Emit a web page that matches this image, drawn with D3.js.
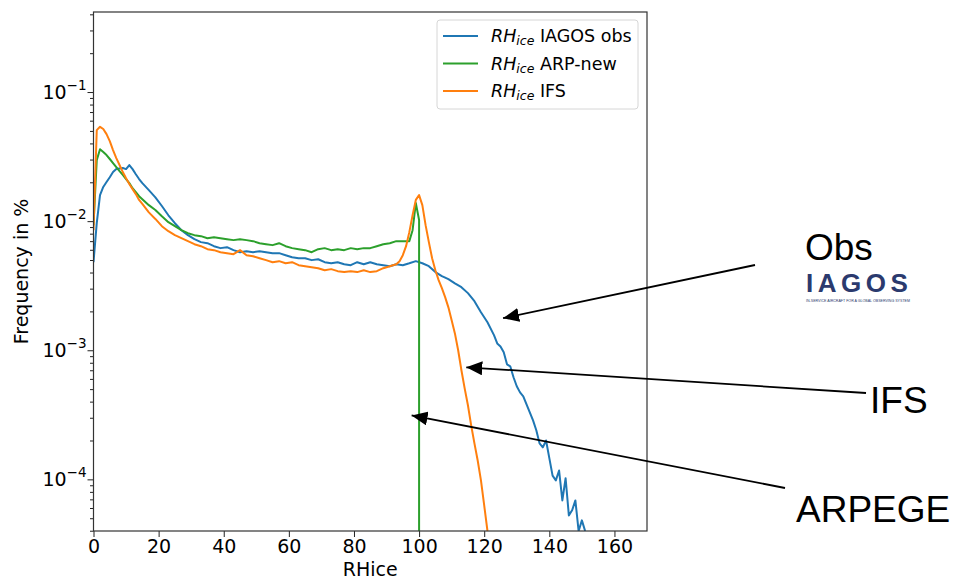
<!DOCTYPE html>
<html>
<head>
<meta charset="utf-8">
<script src="https://cdnjs.cloudflare.com/ajax/libs/d3/7.8.5/d3.min.js"></script>
<style>
    body { margin: 0; background: #fff; }
    svg { display: block; }
    text { font-family: "DejaVu Sans", sans-serif; fill: #000; }
</style>
</head>
<body>
<svg id="chart" width="956" height="580"></svg>
<script>

/* values: RHice (%) and frequency (%) */

var obsRH = [0, 1, 2, 3, 4, 5, 6, 7, 8, 9, 10, 11, 12, 13, 14, 15, 17, 19, 21, 23, 25, 27, 29, 31, 33, 35, 37, 39,
    41, 43, 45, 47, 49, 51, 53, 55, 57, 59, 61, 63, 65, 67, 69, 71, 73, 75, 77, 79, 81, 83, 85, 87, 89, 91, 93, 95,
    97, 99, 101, 103, 105, 107, 109, 111, 113, 115, 117, 119, 121, 123, 124, 125, 126, 127, 128, 129, 130, 131, 132,
    133, 134, 135, 136, 137, 138, 139, 140, 141, 142, 143, 144, 145, 146, 147, 148, 149, 150, 151];
var obsFreq = [0.00481, 0.00964, 0.0159, 0.0184, 0.0201, 0.0219, 0.0240, 0.0253, 0.0256, 0.0258, 0.0253, 0.0272,
    0.0253, 0.0231, 0.0212, 0.0197, 0.0174, 0.0153, 0.0131, 0.0111, 0.00964, 0.00851, 0.00779, 0.00725, 0.00688,
    0.00675, 0.00640, 0.00618, 0.00629, 0.00596, 0.00575, 0.00585, 0.00575, 0.00585, 0.00575, 0.00565, 0.00565,
    0.00545, 0.00526, 0.00516, 0.00516, 0.00499, 0.00507, 0.00481, 0.00472, 0.00481, 0.00464, 0.00456, 0.00481,
    0.00464, 0.00481, 0.00464, 0.00456, 0.00448, 0.00464, 0.00456, 0.00472, 0.00490, 0.00472, 0.00448, 0.00403,
    0.00375, 0.00355, 0.00330, 0.00308, 0.00277, 0.00240, 0.00197, 0.00165, 0.00131, 0.00113, 0.00107, 0.000964,
    0.000778, 0.000751, 0.000618, 0.000526, 0.000472, 0.000440, 0.000381, 0.000330, 0.000286, 0.000240, 0.000190,
    0.000177, 0.000200, 0.000146, 0.000107, 0.0000982, 0.000117, 0.0000687, 0.000102, 0.0000526, 0.0000576,
    0.0000687, 0, 0.0000481, 0];

var arpRH = [0, 1, 2, 3, 4, 5, 6, 7, 8, 9, 10, 11, 12, 13, 14, 15, 17, 19, 21, 23, 25, 27, 29, 31, 33, 35, 37, 39,
    41, 43, 45, 47, 49, 51, 53, 55, 57, 59, 61, 63, 65, 67, 69, 71, 73, 75, 77, 79, 81, 83, 85, 87, 89, 91, 93, 95,
    97, 98, 99, 100, 100];
var arpFreq = [0.00931, 0.0297, 0.0361, 0.0343, 0.0325, 0.0303, 0.0282, 0.0262, 0.0244, 0.0228, 0.0212, 0.0197,
    0.0180, 0.0168, 0.0156, 0.0148, 0.0133, 0.0122, 0.0109, 0.00982, 0.00914, 0.00851, 0.00807, 0.00779, 0.00765,
    0.00738, 0.00751, 0.00738, 0.00725, 0.00713, 0.00725, 0.00713, 0.00700, 0.00675, 0.00663, 0.00652, 0.00675,
    0.00640, 0.00618, 0.00607, 0.00596, 0.00575, 0.00607, 0.00618, 0.00596, 0.00607, 0.00596, 0.00618, 0.00607,
    0.00618, 0.00618, 0.00640, 0.00663, 0.00675, 0.00700, 0.00700, 0.00700, 0.00851, 0.0138, 0.0102, 0];

var ifsRH = [0, 1, 2, 3, 4, 5, 6, 7, 8, 9, 10, 11, 12, 13, 14, 15, 17, 19, 21, 23, 25, 27, 29, 31, 33, 35, 37, 39,
    41, 43, 45, 47, 49, 51, 53, 55, 57, 59, 61, 63, 65, 67, 69, 71, 73, 75, 77, 79, 81, 83, 85, 87, 89, 91, 93, 94,
    95, 96, 97, 98, 99, 100, 101, 102, 103, 104, 105, 106, 107, 108, 109, 110, 111, 112, 113, 114, 115, 116, 117,
    118, 119, 120, 121];
var ifsFreq = [0.00851, 0.0507, 0.0538, 0.0517, 0.0472, 0.0417, 0.0355, 0.0308, 0.0272, 0.0240, 0.0215, 0.0194,
    0.0177, 0.0162, 0.0146, 0.0136, 0.0117, 0.0104, 0.00914, 0.00836, 0.00779, 0.00738, 0.00700, 0.00663, 0.00640,
    0.00607, 0.00596, 0.00575, 0.00565, 0.00555, 0.00596, 0.00545, 0.00535, 0.00516, 0.00499, 0.00481, 0.00490,
    0.00472, 0.00481, 0.00456, 0.00448, 0.00440, 0.00432, 0.00417, 0.00425, 0.00410, 0.00403, 0.00410, 0.00403,
    0.00417, 0.00403, 0.00410, 0.00432, 0.00448, 0.00464, 0.00490, 0.00545, 0.00640, 0.00822, 0.0111, 0.0146,
    0.0159, 0.0133, 0.00931, 0.00688, 0.00516, 0.00417, 0.00349, 0.00303, 0.00258, 0.00215, 0.00171, 0.00135,
    0.00100, 0.000700, 0.000507, 0.000375, 0.000262, 0.000190, 0.000140, 0.0000982, 0.0000629, 0];

var seriesNames = ["IAGOS obs", "ARP-new", "IFS"];
var seriesColors = ["#1f77b4", "#2ca02c", "#ff7f0e"];

var xTicks = [0, 20, 40, 60, 80, 100, 120, 140, 160];
var yTicks = [1e-4, 1e-3, 1e-2, 1e-1];
var yExponents = ["\u22124", "\u22123", "\u22122", "\u22121"];

/* arrows: tip in data units, tail in page pixels */
var notes = [
    {label: "Obs", rh: 125.8, freq: 0.00177, tail: [755, 265], text: [805, 260]},
    {label: "IFS", rh: 114.5, freq: 0.000738, tail: [866, 393], text: [870, 413]},
    {label: "ARPEGE", rh: 97.7, freq: 0.000313, tail: [785, 488], text: [796, 522]}
];

var series = [
    {rh: obsRH, freq: obsFreq},
    {rh: arpRH, freq: arpFreq},
    {rh: ifsRH, freq: ifsFreq}
];

var svg = d3.select("#chart");

var pLeft = 93.5, pRight = 647, pTop = 12, pBottom = 531;

var x = d3.scaleLinear().domain([0, 170]).range([pLeft, pRight]);
var y = d3.scaleLog()
    .domain([Math.pow(10, -4.40), Math.pow(10, -0.38)])
    .range([pBottom, pTop])
    .clamp(true);

var defs = svg.append("defs");
defs.append("clipPath").attr("id", "plotclip")
    .append("rect")
    .attr("x", pLeft).attr("y", pTop)
    .attr("width", pRight - pLeft).attr("height", pBottom - pTop);

/* lines */

var line = d3.line()
    .x(function (d) { return x(d[0]); })
    .y(function (d) { return y(d[1]); });

var plot = svg.append("g").attr("clip-path", "url(#plotclip)");

series.forEach(function (s, i) {
    var pts = s.rh.map(function (r, j) { return [r, s.freq[j]]; });
    plot.append("path")
        .datum(pts)
        .attr("d", line)
        .attr("fill", "none")
        .attr("stroke", seriesColors[i])
        .attr("stroke-width", 2)
        .attr("stroke-linejoin", "round");
});

/* axes */

var xAxis = svg.append("g")
    .attr("transform", "translate(0," + pBottom + ")")
    .call(d3.axisBottom(x).tickValues(xTicks).tickSize(6).tickPadding(3).tickFormat(d3.format("d")));

var minors = [];
[-5, -4, -3, -2, -1].forEach(function (e) {
    for (var k = 2; k < 10; k++) minors.push(k * Math.pow(10, e));
});
minors = minors.filter(function (v) { return v >= y.domain()[0] && v <= y.domain()[1]; });

svg.append("g")
    .attr("transform", "translate(" + pLeft + ",0)")
    .call(d3.axisLeft(y).tickValues(minors).tickSize(3.5).tickFormat(""));

var yAxis = svg.append("g")
    .attr("transform", "translate(" + pLeft + ",0)")
    .call(d3.axisLeft(y).tickValues(yTicks).tickSize(6).tickPadding(4).tickFormat(""));

yAxis.selectAll(".tick").each(function (d, i) {
    var t = d3.select(this).append("text")
        .attr("x", -7)
        .attr("y", 6.5)
        .attr("text-anchor", "end")
        .style("font-size", "19px");
    t.append("tspan").text("10");
    t.append("tspan")
        .attr("dy", -9)
        .style("font-size", "13.5px")
        .text(yExponents[i]);
});

svg.selectAll(".domain").remove();
svg.selectAll(".tick line").attr("stroke", "#222");
xAxis.selectAll("text").style("font-size", "19px").attr("fill", "#000");

svg.append("rect")
    .attr("x", pLeft).attr("y", pTop)
    .attr("width", pRight - pLeft).attr("height", pBottom - pTop)
    .attr("fill", "none")
    .attr("stroke", "#333")
    .attr("stroke-width", 1.2);

svg.append("text")
    .attr("x", (pLeft + pRight) / 2)
    .attr("y", 576)
    .attr("text-anchor", "middle")
    .style("font-size", "19px")
    .text("RHice");

svg.append("text")
    .attr("transform", "translate(28," + (pTop + pBottom) / 2 + ") rotate(-90)")
    .attr("text-anchor", "middle")
    .style("font-size", "19px")
    .text("Frequency in %");

/* legend */

var legend = svg.append("g");
legend.append("rect")
    .attr("x", 437).attr("y", 20)
    .attr("width", 201).attr("height", 89)
    .attr("rx", 3)
    .attr("fill", "#fff")
    .attr("fill-opacity", 0.8)
    .attr("stroke", "#d6d6d6");

seriesNames.forEach(function (name, i) {
    var ly = 36 + i * 27.5;
    legend.append("line")
        .attr("x1", 443).attr("x2", 478)
        .attr("y1", ly).attr("y2", ly)
        .attr("stroke", seriesColors[i])
        .attr("stroke-width", 2);
    var t = legend.append("text")
        .attr("x", 491)
        .attr("y", ly + 6)
        .style("font-size", "17.5px");
    t.append("tspan").style("font-style", "italic").text("RH");
    t.append("tspan").style("font-style", "italic").style("font-size", "12.5px").attr("dy", 3).text("ice");
    t.append("tspan").attr("dy", -3).text(" " + name);
});

/* annotations */

defs.append("marker")
    .attr("id", "head")
    .attr("viewBox", "0 0 16 14")
    .attr("refX", 16).attr("refY", 7)
    .attr("markerWidth", 16).attr("markerHeight", 14)
    .attr("markerUnits", "userSpaceOnUse")
    .attr("orient", "auto")
    .append("path")
    .attr("d", "M0,0 L16,7 L0,14 Z")
    .attr("fill", "#000");

notes.forEach(function (n) {
    svg.append("line")
        .attr("x1", n.tail[0]).attr("y1", n.tail[1])
        .attr("x2", x(n.rh)).attr("y2", y(n.freq))
        .attr("stroke", "#000")
        .attr("stroke-width", 1.8)
        .attr("marker-end", "url(#head)");
    svg.append("text")
        .attr("x", n.text[0]).attr("y", n.text[1])
        .style("font-family", "'Liberation Sans', Arial, sans-serif")
        .style("font-size", "37px")
        .text(n.label);
});

/* IAGOS logo, as text */

svg.append("text")
    .attr("x", 806).attr("y", 292)
    .style("font-family", "'Liberation Sans', Arial, sans-serif")
    .style("font-weight", "bold")
    .style("font-size", "26px")
    .style("letter-spacing", "4.5px")
    .style("fill", "#2b3a6e")
    .text("IAGOS");

svg.append("text")
    .attr("x", 806).attr("y", 301.5)
    .attr("textLength", 104)
    .attr("lengthAdjust", "spacingAndGlyphs")
    .style("font-family", "'Liberation Sans', Arial, sans-serif")
    .style("font-size", "3px")
    .style("fill", "#2b3a6e")
    .text("IN-SERVICE AIRCRAFT FOR A GLOBAL OBSERVING SYSTEM");

</script>
</body>
</html>
